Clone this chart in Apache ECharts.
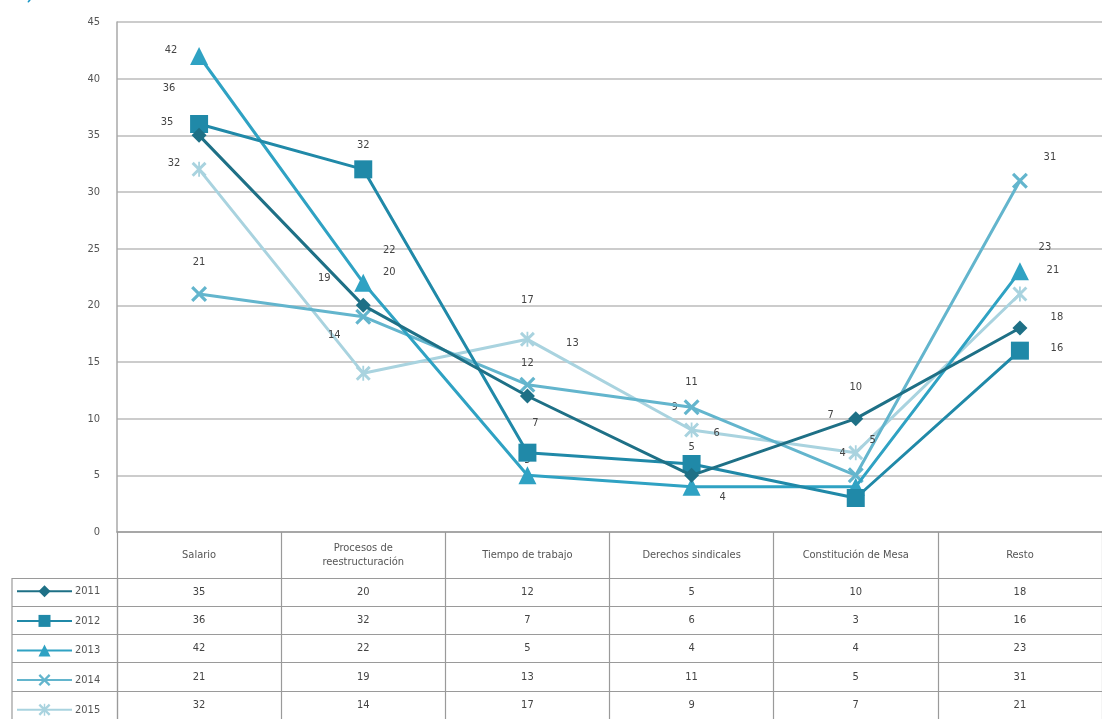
<!DOCTYPE html>
<html>
<head>
<meta charset="utf-8">
<script src="https://cdn.jsdelivr.net/npm/echarts@6/dist/echarts.min.js"></script>
<style>
html,body{margin:0;padding:0;background:#fff;}
#chart{width:1102px;height:719px;}
</style>
</head>
<body>
<div id="chart"></div>
<script>
const categories = ['Salario', 'Procesos de\nreestructuración', 'Tiempo de trabajo', 'Derechos sindicales', 'Constitución de Mesa', 'Resto'];
const years = ['2011', '2012', '2013', '2014', '2015'];
const v2011 = [35, 20, 12, 5, 10, 18];
const v2012 = [36, 32, 7, 6, 3, 16];
const v2013 = [42, 22, 5, 4, 4, 23];
const v2014 = [21, 19, 13, 11, 5, 31];
const v2015 = [32, 14, 17, 9, 7, 21];
const yTicks = { min: 0, max: 45, interval: 5 };

// styling (not data)
const colors = ['#1e7086', '#2089a8', '#2fa2c3', '#63b5cd', '#a9d3df'];
const xPath = 'path://M0,1.4L1.4,0L5,3.6L8.6,0L10,1.4L6.4,5L10,8.6L8.6,10L5,6.4L1.4,10L0,8.6L3.6,5Z';
const starPath = 'path://M0,1.4L1.4,0L4.4,3V0H5.6V3L8.6,0L10,1.4L6.4,5L10,8.6L8.6,10L5.6,7V10H4.4V7L1.4,10L0,8.6L3.6,5Z';
const symbols = ['diamond', 'rect', 'triangle', xPath, starPath];
const symbolSizes = [15, 18, 18, 16, 15];
const labelOffsets = [
  [[-32,-13],[26,-33],[0,-33],[0,-28],[0,-32],[37,-11]],
  [[-30,-36],[0,-24],[8,-30],[25,-31],null,[37,-3]],
  [[-28,-6],[26,-33],[0,-15],[31,10],[-13,-34],[25,-24]],
  [[0,-32],[-39,-39],[45,-42],[0,-25],[17,-35],[30,-24]],
  [[-25,-6],[-29,-38],[0,-39],[-17,-23],[-25,-38],[33,-24]]
];
const FONT = '"DejaVu Sans Condensed", "Liberation Sans Narrow", "Roboto", sans-serif';

const seriesValues = [v2011, v2012, v2013, v2014, v2015];

const lineSeries = seriesValues.map((vals, s) => ({
  name: years[s],
  type: 'line',
  xAxisIndex: 0,
  yAxisIndex: 0,
  symbol: symbols[s],
  symbolSize: symbolSizes[s],
  color: colors[s],
  lineStyle: { width: 3, color: colors[s] },
  itemStyle: { color: colors[s] },
  z: 5 - s,
  label: {
    show: true,
    position: 'inside',
    color: '#444',
    fontSize: 11,
    fontFamily: FONT
  },
  data: vals.map((v, i) => {
    const off = labelOffsets[s][i];
    return off ? { value: v, label: { offset: off } } : { value: v, label: { show: false } };
  })
}));

const cellData = [];
seriesValues.forEach((vals, r) => vals.forEach((v, c) => cellData.push([c, r, v])));

const tableSeries = {
  type: 'custom',
  xAxisIndex: 1,
  yAxisIndex: 1,
  silent: true,
  encode: { x: 0, y: 1 },
  data: cellData,
  renderItem: function (params, api) {
    const p = api.coord([api.value(0), api.value(1)]);
    return {
      type: 'text',
      style: {
        x: p[0], y: p[1],
        text: String(api.value(2)),
        align: 'center', verticalAlign: 'middle',
        fill: '#444', fontSize: 11, fontFamily: FONT
      }
    };
  }
};

const ROW_TOP = 578, ROW_H = 29.6;
const legends = years.map((y, i) => ({
  orient: 'horizontal',
  left: 16,
  top: ROW_TOP + ROW_H * i + (ROW_H - 15) / 2,
  padding: 0,
  itemWidth: 55,
  itemHeight: 15,
  itemGap: 0,
  data: [y],
  selectedMode: false,
  textStyle: { color: '#555', fontSize: 11, fontFamily: FONT, padding: [0, 0, 0, -2] }
}));

const chart = echarts.init(document.getElementById('chart'), null, { renderer: 'canvas' });
chart.setOption({
  backgroundColor: '#fff',
  animation: false,
  graphic: [
    { type: 'text', left: -58, top: -13, style: { text: '(2011-2015)', fill: '#1996c6', fontSize: 16, fontWeight: 'bold', fontFamily: 'Roboto, sans-serif' } },
    { type: 'line', shape: { x1: 12, y1: 578, x2: 12, y2: 719 }, style: { stroke: '#9a9a9a', lineWidth: 1.2 } }
  ],
  legend: legends,
  grid: [
    { left: 117, top: 22, width: 996, height: 510 },
    { left: 117, top: ROW_TOP, width: 996, height: ROW_H * 5 }
  ],
  xAxis: [
    {
      type: 'category', gridIndex: 0, data: categories, boundaryGap: true,
      axisLine: { show: true, lineStyle: { color: '#9a9a9a', width: 1.5 } },
      axisTick: { show: true, interval: 0, length: 46, lineStyle: { color: '#9a9a9a', width: 1.2 } },
      axisLabel: { interval: 0, margin: 23, verticalAlign: 'middle', color: '#555', fontSize: 11, fontFamily: FONT, lineHeight: 14 },
      splitLine: { show: false }
    },
    {
      type: 'category', gridIndex: 1, data: categories, boundaryGap: true,
      axisLine: { show: false }, axisTick: { show: false }, axisLabel: { show: false },
      splitLine: { show: true, interval: 0, lineStyle: { color: '#9a9a9a', width: 1.2 } }
    }
  ],
  yAxis: [
    {
      type: 'value', gridIndex: 0, min: yTicks.min, max: yTicks.max, interval: yTicks.interval,
      axisLine: { show: true, lineStyle: { color: '#a8a8a8', width: 1.5 } },
      axisTick: { show: false },
      axisLabel: { color: '#555', fontSize: 11, margin: 17, fontFamily: FONT },
      splitLine: { show: true, lineStyle: { color: '#cccccc', width: 2 } }
    },
    {
      type: 'category', gridIndex: 1, data: years, inverse: true, boundaryGap: true,
      axisLine: { show: true, lineStyle: { color: '#9a9a9a', width: 1.2 } },
      axisTick: { show: true, interval: 0, length: 105, lineStyle: { color: '#9a9a9a', width: 1.2 } },
      axisLabel: { show: false },
      splitLine: { show: true, interval: 0, lineStyle: { color: '#9a9a9a', width: 1.2 } }
    }
  ],
  series: lineSeries.concat([tableSeries])
});
</script>
</body>
</html>
